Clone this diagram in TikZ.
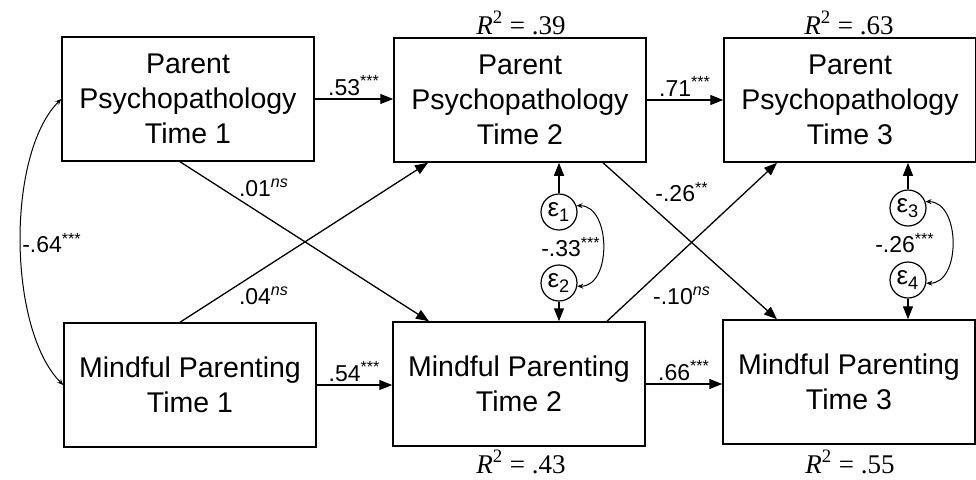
\documentclass[tikz,border=0pt]{standalone}
\usepackage{fontspec}
\setmainfont{Liberation Sans}
\newfontfamily\rtwofont{Liberation Serif}
\usetikzlibrary{arrows.meta}
\newcommand{\stars}[1]{\textsuperscript{#1}}
\newcommand{\nsig}{\textsuperscript{\itshape ns}}
\newcommand{\rsqr}[1]{{\itshape R}\textsuperscript{2} = #1}

\begin{document}
\begin{tikzpicture}[x=0.5pt, y=0.5pt,
  varbox/.style={rectangle, draw, line width=0.75pt, minimum width=126pt, minimum height=62pt, inner sep=0pt, align=center, font=\fontsize{14.25}{17.5}\selectfont},
  errnode/.style={circle, draw, line width=0.6pt, minimum size=18pt, inner sep=0pt, font=\fontsize{13}{13}\selectfont},
  reg/.style={-{Triangle[length=6.5pt,width=5pt]}, line width=0.65pt},
  cov/.style={{Stealth[length=3pt,width=2.5pt]}-{Stealth[length=3pt,width=2.5pt]}, line width=0.5pt},
  coef/.style={font=\fontsize{11.5}{12}\selectfont, inner sep=1.5pt},
  rsq/.style={font=\rtwofont\fontsize{13.5}{14}\selectfont, inner sep=0pt}]
\useasboundingbox (0,0) rectangle (976,479);

% Parent psychopathology
\node[varbox] (pp1) at (188,380) {Parent\\Psychopathology\\Time 1};
\node[varbox] (pp2) at (520,379) {Parent\\Psychopathology\\Time 2};
\node[varbox] (pp3) at (850,379) {Parent\\Psychopathology\\Time 3};

% Mindful parenting
\node[varbox] (mp1) at (190,94) {Mindful Parenting\\Time 1};
\node[varbox] (mp2) at (519,95) {Mindful Parenting\\Time 2};
\node[varbox] (mp3) at (849,97) {Mindful Parenting\\Time 3};

% Residuals
\node[errnode] (e1) at (559,267) {ε\textsubscript{1}};
\node[errnode] (e2) at (559,196) {ε\textsubscript{2}};
\node[errnode] (e3) at (908,271) {ε\textsubscript{3}};
\node[errnode] (e4) at (908,199) {ε\textsubscript{4}};

% R squared
\node[rsq] (r39) at (521,456) {\rsqr{.39}};
\node[rsq] (r63) at (849,456) {\rsqr{.63}};
\node[rsq] (r43) at (521,17) {\rsqr{.43}};
\node[rsq] (r55) at (850,17) {\rsqr{.55}};

% Stability paths
\draw[reg] (pp1.east) -- (pp1.east -| pp2.west) node[coef, midway, above] {.53\stars{***}};
\draw[reg] (pp2.east) -- (pp2.east -| pp3.west) node[coef, midway, above] {.71\stars{***}};
\draw[reg] (mp1.east) -- (mp1.east -| mp2.west) node[coef, midway, above] {.54\stars{***}};
\draw[reg] (mp2.east) -- (mp2.east -| mp3.west) node[coef, midway, above] {.66\stars{***}};

% Cross-lagged paths
\draw[reg] ([xshift=-4pt]pp1.south) -- ([xshift=-45pt]mp2.north);
\draw[reg] ([xshift=-5pt]mp1.north) -- ([xshift=-46pt]pp2.south);
\draw[reg] ([xshift=41.5pt]pp2.south) -- ([xshift=-36pt]mp3.north);
\draw[reg] ([xshift=44pt]mp2.north) -- ([xshift=-36.5pt]pp3.south);
\node[coef] (c01) at (264,291) {.01\nsig};
\node[coef] (c04) at (264,183) {.04\nsig};
\node[coef] (c26) at (682,287) {-.26\stars{**}};
\node[coef] (c10) at (682,183) {-.10\nsig};

% Residual paths
\draw[reg] (e1) -- (pp2.south -| e1);
\draw[reg] (e2) -- (mp2.north -| e2);
\draw[reg] (e3) -- (pp3.south -| e3);
\draw[reg] (e4) -- (mp3.north -| e4);

% Covariances
\draw[cov] (pp1.west) to[out=225, in=135, looseness=0.7] (mp1.west);
\node[coef] (c64) at (52,236) {-.64\stars{***}};
\draw[cov] (e1.20) to[out=0, in=0, looseness=1.1] (e2.-10);
\node[coef] (c33) at (571,232) {-.33\stars{***}};
\draw[cov] (e3.20) to[out=0, in=0, looseness=1.1] (e4.-10);
\node[coef] (c26b) at (905,236) {-.26\stars{***}};
\end{tikzpicture}
\end{document}
